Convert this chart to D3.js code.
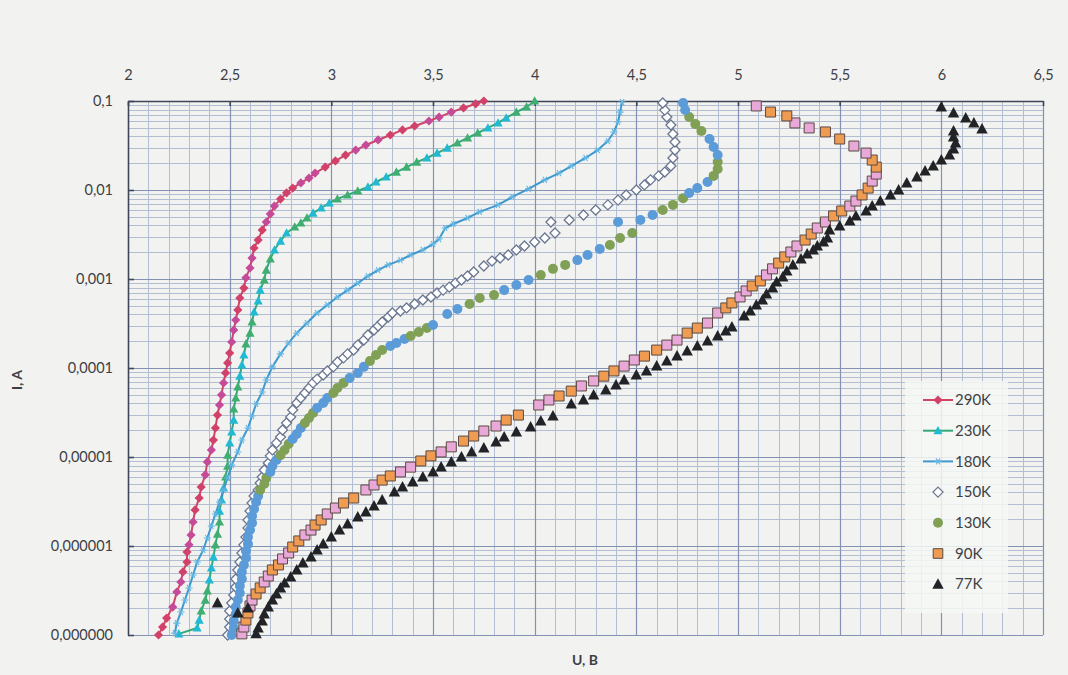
<!DOCTYPE html>
<html>
<head>
<meta charset="utf-8">
<script src="https://cdn.jsdelivr.net/npm/d3@7"></script>
<style>
  html, body { margin: 0; padding: 0; background: #f2f3f1; }
  svg { display: block; font-family: Lato, "Open Sans", "DejaVu Sans", sans-serif; }
</style>
</head>
<body>
<svg id="chart" width="1068" height="675"></svg>
<script>
// ---- Axis ticks ----
const xTicks = [2, 2.5, 3, 3.5, 4, 4.5, 5, 5.5, 6, 6.5];
const yTicks = [1e-7, 1e-6, 1e-5, 1e-4, 1e-3, 1e-2, 1e-1];
const yTickLabels = ["0,000000", "0,000001", "0,00001", "0,0001", "0,001", "0,01", "0,1"];
const seriesNames = ["290K", "230K", "180K", "150K", "130K", "90K", "77K"];

// ---- I–V data: U in volts, I in amperes ----
const u290 = [2.15,2.17,2.19,2.22,2.24,2.26,2.27,2.29,2.29,2.30,2.31,2.32,2.33,2.35,2.36,2.38,2.39,2.41,2.42,2.43,2.44,2.45,2.46,2.47,2.48,2.49,2.50,2.51,2.52,2.53,2.54,2.55,2.57,2.58,2.60,2.61,2.62,2.64,2.66,2.68,2.70,2.72,2.75,2.78,2.81,2.85,2.89,2.92,2.97,3.02,3.07,3.12,3.17,3.23,3.29,3.35,3.41,3.48,3.53,3.59,3.65,3.71,3.75];
const i290 = [1e-7,1.23e-7,1.55e-7,2.06e-7,3.04e-7,3.94e-7,5.11e-7,6.61e-7,8.56e-7,1.03e-6,1.33e-6,1.86e-6,2.54e-6,3.46e-6,4.6e-6,6.3e-6,8.8e-6,1.2e-5,1.55e-5,2.12e-5,2.96e-5,3.84e-5,4.98e-5,6.8e-5,8.8e-5,1.14e-4,1.47e-4,1.96e-4,2.67e-4,3.46e-4,4.49e-4,6.12e-4,7.9e-4,1.03e-3,1.33e-3,1.72e-3,2.23e-3,2.74e-3,3.55e-3,4.37e-3,5.38e-3,6.6e-3,7.9e-3,9.3e-3,1.05e-2,1.2e-2,1.36e-2,1.55e-2,1.81e-2,2.12e-2,2.47e-2,2.81e-2,3.2e-2,3.65e-2,4.15e-2,4.73e-2,5.24e-2,5.96e-2,6.6e-2,7.5e-2,8.35e-2,9.3e-2,0.1];

const u230 = [2.25,2.34,2.35,2.36,2.38,2.39,2.40,2.41,2.42,2.43,2.44,2.45,2.45,2.46,2.47,2.48,2.49,2.49,2.50,2.51,2.52,2.52,2.53,2.54,2.55,2.56,2.57,2.58,2.60,2.61,2.62,2.64,2.65,2.67,2.68,2.70,2.72,2.75,2.78,2.82,2.85,2.88,2.91,2.95,2.99,3.03,3.08,3.13,3.18,3.22,3.27,3.32,3.37,3.42,3.47,3.52,3.57,3.62,3.67,3.72,3.77,3.82,3.86,3.91,3.96,4.00];
const i230 = [1.03e-7,1.2e-7,1.47e-7,1.86e-7,2.47e-7,3.12e-7,4.15e-7,5.67e-7,7.5e-7,1.03e-6,1.36e-6,1.86e-6,2.47e-6,3.29e-6,4.49e-6,5.96e-6,7.9e-6,1.05e-5,1.44e-5,1.91e-5,2.6e-5,3.46e-5,4.6e-5,6.12e-5,8.1e-5,1.08e-4,1.4e-4,1.86e-4,2.47e-4,3.29e-4,4.26e-4,5.67e-4,7.5e-4,9.74e-4,1.26e-3,1.68e-3,2.12e-3,2.67e-3,3.29e-3,3.84e-3,4.26e-3,4.85e-3,5.5e-3,6.28e-3,7.15e-3,7.92e-3,8.8e-3,9.74e-3,1.08e-2,1.23e-2,1.4e-2,1.59e-2,1.81e-2,2.06e-2,2.29e-2,2.6e-2,2.96e-2,3.38e-2,3.84e-2,4.37e-2,4.98e-2,5.67e-2,6.45e-2,7.5e-2,8.56e-2,0.1];

const u180 = [2.23,2.24,2.26,2.28,2.30,2.32,2.34,2.37,2.39,2.41,2.43,2.45,2.47,2.49,2.51,2.54,2.56,2.59,2.61,2.63,2.66,2.68,2.71,2.75,2.79,2.83,2.88,2.93,2.98,3.03,3.08,3.13,3.18,3.23,3.28,3.34,3.39,3.45,3.50,3.53,3.56,3.60,3.67,3.73,3.82,3.89,3.97,4.05,4.12,4.18,4.25,4.31,4.36,4.39,4.41,4.42,4.43];
const i180 = [1.05e-7,1.36e-7,1.81e-7,2.47e-7,3.38e-7,4.73e-7,6.61e-7,9.02e-7,1.23e-6,1.68e-6,2.29e-6,3.12e-6,4.26e-6,5.81e-6,8.1e-6,1.14e-5,1.55e-5,2.12e-5,2.89e-5,3.94e-5,5.38e-5,7.34e-5,1.03e-4,1.44e-4,1.91e-4,2.47e-4,3.2e-4,4.15e-4,5.11e-4,6.28e-4,7.5e-4,9.0e-4,1.08e-3,1.26e-3,1.44e-3,1.63e-3,1.86e-3,2.12e-3,2.47e-3,2.81e-3,3.74e-3,4.15e-3,4.85e-3,5.67e-3,6.8e-3,8.35e-3,1.03e-2,1.3e-2,1.55e-2,1.86e-2,2.29e-2,2.81e-2,3.55e-2,4.49e-2,5.81e-2,7.5e-2,9.74e-2];

const u150 = [2.49,2.50,2.50,2.50,2.51,2.52,2.53,2.53,2.54,2.55,2.56,2.57,2.58,2.59,2.59,2.60,2.61,2.62,2.64,2.65,2.66,2.67,2.69,2.70,2.71,2.73,2.75,2.76,2.78,2.80,2.81,2.83,2.85,2.87,2.89,2.91,2.93,2.96,2.98,3.01,3.03,3.06,3.08,3.11,3.13,3.16,3.18,3.21,3.23,3.25,3.28,3.30,3.34,3.37,3.41,3.45,3.49,3.52,3.55,3.58,3.61,3.64,3.67,3.70,3.75,3.79,3.83,3.87,3.91,3.95,4.00,4.05,4.10,4.08,4.17,4.24,4.30,4.36,4.41,4.45,4.50,4.54,4.57,4.61,4.64,4.67,4.68,4.69,4.69,4.68,4.67,4.65,4.64,4.63];
const i150 = [1e-7,1.23e-7,1.51e-7,1.86e-7,2.29e-7,2.81e-7,3.46e-7,4.26e-7,5.38e-7,6.61e-7,8.35e-7,1.03e-6,1.26e-6,1.59e-6,1.96e-6,2.47e-6,3.04e-6,3.65e-6,4.26e-6,5.11e-6,5.96e-6,7.15e-6,8.56e-6,1.03e-5,1.2e-5,1.44e-5,1.68e-5,2.01e-5,2.41e-5,2.81e-5,3.38e-5,4.05e-5,4.6e-5,5.24e-5,5.96e-5,6.8e-5,7.5e-5,8.35e-5,9.27e-5,1.03e-4,1.17e-4,1.3e-4,1.44e-4,1.59e-4,1.81e-4,2.06e-4,2.35e-4,2.67e-4,2.96e-4,3.29e-4,3.74e-4,4.15e-4,4.37e-4,4.73e-4,5.24e-4,5.81e-4,6.28e-4,6.96e-4,7.5e-4,8.1e-4,9.0e-4,9.74e-4,1.08e-3,1.2e-3,1.4e-3,1.59e-3,1.72e-3,1.86e-3,2.12e-3,2.35e-3,2.6e-3,2.89e-3,3.29e-3,4.37e-3,4.6e-3,5.24e-3,5.96e-3,6.8e-3,7.7e-3,8.8e-3,1.0e-2,1.14e-2,1.3e-2,1.44e-2,1.59e-2,1.86e-2,2.29e-2,2.81e-2,3.46e-2,4.26e-2,5.38e-2,6.61e-2,7.9e-2,9.5e-2];

const u130 = [2.51,2.52,2.52,2.53,2.53,2.54,2.55,2.55,2.56,2.56,2.57,2.58,2.58,2.59,2.59,2.60,2.61,2.61,2.62,2.63,2.64,2.65,2.67,2.68,2.70,2.71,2.73,2.75,2.77,2.79,2.81,2.83,2.85,2.87,2.89,2.91,2.93,2.96,2.98,3.01,3.03,3.06,3.09,3.13,3.16,3.19,3.22,3.25,3.29,3.32,3.36,3.39,3.43,3.47,3.50,3.57,3.62,3.68,3.73,3.80,3.85,3.91,3.97,4.03,4.09,4.15,4.21,4.26,4.32,4.37,4.42,4.48,4.41,4.52,4.58,4.63,4.68,4.73,4.76,4.80,4.85,4.88,4.90,4.90,4.90,4.88,4.86,4.82,4.79,4.76,4.74,4.73];
const i130 = [1e-7,1.2e-7,1.44e-7,1.72e-7,2.06e-7,2.47e-7,2.96e-7,3.55e-7,4.26e-7,5.11e-7,6.12e-7,7.34e-7,8.8e-7,1.05e-6,1.26e-6,1.51e-6,1.81e-6,2.17e-6,2.6e-6,3.12e-6,3.65e-6,4.26e-6,4.98e-6,5.81e-6,6.8e-6,7.92e-6,9.27e-6,1.05e-5,1.2e-5,1.4e-5,1.59e-5,1.81e-5,2.12e-5,2.41e-5,2.74e-5,3.12e-5,3.55e-5,4.05e-5,4.6e-5,5.24e-5,5.96e-5,6.8e-5,7.7e-5,8.8e-5,1.03e-4,1.2e-4,1.4e-4,1.59e-4,1.77e-4,1.91e-4,2.12e-4,2.29e-4,2.54e-4,2.81e-4,3.04e-4,4.05e-4,4.6e-4,5.24e-4,6.12e-4,6.61e-4,7.5e-4,8.56e-4,9.74e-4,1.11e-3,1.3e-3,1.44e-3,1.63e-3,1.86e-3,2.17e-3,2.41e-3,2.89e-3,3.29e-3,4.37e-3,4.6e-3,5.24e-3,5.96e-3,6.8e-3,8.1e-3,9.27e-3,1.05e-2,1.23e-2,1.44e-2,1.72e-2,2.06e-2,2.47e-2,3.04e-2,3.74e-2,4.6e-2,5.5e-2,6.61e-2,7.92e-2,9.5e-2];

const u90 = [2.56,2.57,2.58,2.59,2.60,2.61,2.63,2.65,2.67,2.69,2.71,2.74,2.76,2.79,2.81,2.84,2.87,2.90,2.92,2.95,2.98,3.02,3.06,3.11,3.17,3.21,3.25,3.29,3.34,3.39,3.44,3.49,3.54,3.59,3.65,3.70,3.75,3.81,3.86,3.92,4.02,4.07,4.12,4.18,4.23,4.29,4.34,4.39,4.44,4.49,4.54,4.60,4.65,4.70,4.75,4.80,4.85,4.90,4.94,4.97,5.01,5.04,5.07,5.11,5.14,5.17,5.20,5.23,5.26,5.29,5.33,5.36,5.39,5.43,5.47,5.51,5.55,5.58,5.61,5.64,5.66,5.68,5.68,5.66,5.63,5.57,5.50,5.43,5.35,5.28,5.24,5.16,5.09];
const i90 = [1.03e-7,1.23e-7,1.47e-7,1.77e-7,2.12e-7,2.47e-7,2.89e-7,3.38e-7,3.94e-7,4.6e-7,5.38e-7,6.12e-7,7.15e-7,8.35e-7,9.74e-7,1.14e-6,1.33e-6,1.51e-6,1.72e-6,1.96e-6,2.29e-6,2.67e-6,3.04e-6,3.46e-6,4.26e-6,4.85e-6,5.5e-6,6.12e-6,6.8e-6,7.7e-6,9.02e-6,1.03e-5,1.14e-5,1.3e-5,1.51e-5,1.72e-5,1.96e-5,2.23e-5,2.6e-5,2.96e-5,3.84e-5,4.37e-5,4.85e-5,5.5e-5,6.28e-5,7.15e-5,8.1e-5,9.27e-5,1.05e-4,1.23e-4,1.36e-4,1.59e-4,1.81e-4,2.06e-4,2.47e-4,2.81e-4,3.2e-4,4.15e-4,4.73e-4,5.38e-4,6.28e-4,7.34e-4,8.35e-4,9.5e-4,1.11e-3,1.3e-3,1.51e-3,1.77e-3,2.01e-3,2.35e-3,2.74e-3,3.2e-3,3.74e-3,4.37e-3,5.11e-3,5.81e-3,6.61e-3,7.52e-3,8.8e-3,1.05e-2,1.26e-2,1.51e-2,1.81e-2,2.17e-2,2.6e-2,3.12e-2,3.74e-2,4.49e-2,4.98e-2,5.67e-2,6.8e-2,7.52e-2,8.8e-2];

const u77 = [2.44,2.54,2.59,2.63,2.64,2.66,2.67,2.69,2.71,2.73,2.75,2.77,2.80,2.83,2.86,2.90,2.93,2.96,3.00,3.04,3.08,3.13,3.17,3.21,3.25,3.31,3.35,3.40,3.45,3.50,3.54,3.59,3.64,3.69,3.75,3.81,3.85,3.91,3.98,4.03,4.09,4.18,4.24,4.29,4.35,4.40,4.44,4.50,4.55,4.60,4.65,4.70,4.75,4.80,4.85,4.90,4.94,4.97,5.03,5.06,5.09,5.12,5.14,5.17,5.19,5.22,5.24,5.27,5.31,5.34,5.37,5.39,5.42,5.44,5.45,5.50,5.55,5.58,5.63,5.66,5.70,5.75,5.79,5.83,5.88,5.92,5.96,6.00,6.04,6.06,6.07,6.06,6.06,6.20,6.16,6.12,6.06,6.00];
const i77 = [2.29e-7,1.77e-7,2.01e-7,1.03e-7,1.2e-7,1.44e-7,1.72e-7,2.06e-7,2.47e-7,2.89e-7,3.38e-7,3.84e-7,4.49e-7,5.38e-7,6.45e-7,7.52e-7,9.02e-7,1.05e-6,1.26e-6,1.51e-6,1.77e-6,2.12e-6,2.41e-6,2.81e-6,3.29e-6,4.05e-6,4.6e-6,5.24e-6,5.96e-6,6.8e-6,7.7e-6,8.8e-6,1.0e-5,1.14e-5,1.26e-5,1.47e-5,1.68e-5,1.91e-5,2.17e-5,2.54e-5,2.89e-5,3.94e-5,4.37e-5,4.98e-5,5.67e-5,6.45e-5,7.34e-5,8.35e-5,9.27e-5,1.05e-4,1.2e-4,1.36e-4,1.55e-4,1.77e-4,2.01e-4,2.29e-4,2.6e-4,2.89e-4,3.84e-4,4.37e-4,5.11e-4,5.81e-4,6.8e-4,7.92e-4,9.27e-4,1.05e-3,1.23e-3,1.44e-3,1.68e-3,1.91e-3,2.12e-3,2.35e-3,2.6e-3,2.89e-3,3.55e-3,3.94e-3,4.49e-3,5.11e-3,5.81e-3,6.61e-3,7.52e-3,8.8e-3,1.0e-2,1.2e-2,1.4e-2,1.63e-2,1.86e-2,2.17e-2,2.47e-2,2.89e-2,3.38e-2,3.94e-2,4.6e-2,4.85e-2,5.67e-2,6.45e-2,7.34e-2,8.56e-2];

// ---- Layout ----
const svg = d3.select("#chart");
const plot = { left: 128, right: 1043, top: 101, bottom: 635 };
const x = d3.scaleLinear().domain([2, 6.5]).range([plot.left, plot.right]);
const y = d3.scaleLog().domain([1e-7, 0.1]).range([plot.bottom, plot.top]);
const crisp = v => Math.round(v) + 0.5;

// ---- Gridlines ----
const grid = svg.append("g").attr("class", "grid");
const minorU = d3.range(20, 66).map(v => v / 10).filter(v => Math.round(v * 10) % 5 !== 0);
const minorI = [];
for (let e = -7; e <= -2; e++) for (let m = 2; m <= 9; m++) minorI.push(m * Math.pow(10, e));

grid.selectAll("line.minor-v").data(minorU).join("line")
  .attr("x1", d => crisp(x(d))).attr("x2", d => crisp(x(d)))
  .attr("y1", plot.top).attr("y2", plot.bottom)
  .attr("stroke", "#b3bed2").attr("stroke-width", 1);
grid.selectAll("line.minor-h").data(minorI).join("line")
  .attr("y1", d => crisp(y(d))).attr("y2", d => crisp(y(d)))
  .attr("x1", plot.left).attr("x2", plot.right)
  .attr("stroke", "#b3bed2").attr("stroke-width", 1);
grid.selectAll("line.major-v").data(xTicks.slice(1)).join("line")
  .attr("x1", d => crisp(x(d))).attr("x2", d => crisp(x(d)))
  .attr("y1", plot.top).attr("y2", plot.bottom)
  .attr("stroke", "#8391b2").attr("stroke-width", 1.2);
grid.selectAll("line.major-h").data(yTicks.slice(0, -1)).join("line")
  .attr("y1", d => crisp(y(d))).attr("y2", d => crisp(y(d)))
  .attr("x1", plot.left).attr("x2", plot.right)
  .attr("stroke", "#8391b2").attr("stroke-width", 1.2);

// ---- Axes ----
const textColor = "#3d3f44";
const xAxis = d3.axisTop(x).tickValues(xTicks)
  .tickSizeInner(-5).tickSizeOuter(0).tickPadding(21)
  .tickFormat(d => String(d).replace(".", ","));
const gx = svg.append("g").attr("transform", `translate(0,${plot.top})`).call(xAxis);

const yAxis = d3.axisLeft(y).tickValues(yTicks)
  .tickSizeInner(-6).tickSizeOuter(0).tickPadding(15)
  .tickFormat((d, i) => yTickLabels[i]);
const gy = svg.append("g").attr("transform", `translate(${plot.left},0)`).call(yAxis);

[gx, gy].forEach(g => {
  g.select(".domain").attr("stroke", "#3e4658").attr("stroke-width", 1.6);
  g.selectAll(".tick line").attr("stroke", "#3e4658").attr("stroke-width", 1.6);
  g.selectAll(".tick text").attr("fill", textColor)
    .style("font-size", "14.5px").style("font-family", "Lato, 'Open Sans', sans-serif");
});

// Axis titles
svg.append("text").attr("x", 585).attr("y", 665).attr("text-anchor", "middle")
  .attr("fill", textColor).style("font-size", "14px").style("font-weight", "bold").text("U, B");
svg.append("text").attr("transform", "translate(22,380) rotate(-90)").attr("text-anchor", "middle")
  .attr("fill", textColor).style("font-size", "14px").style("font-weight", "bold").text("I, A");

// ---- Marker shapes ----
const shapes = {
  diamond: r => `M0,${-r}L${r},0L0,${r}L${-r},0Z`,
  triangle: r => `M0,${-r}L${r * 0.95},${r * 0.75}L${-r * 0.95},${r * 0.75}Z`,
  square: r => `M${-r},${-r}H${r}V${r}H${-r}Z`,
  asterisk: r => `M${-r},0H${r}M${-r * 0.55},${-r * 0.85}L${r * 0.55},${r * 0.85}M${-r * 0.55},${r * 0.85}L${r * 0.55},${-r * 0.85}`,
  circle: r => `M${r},0A${r},${r} 0 1,1 ${-r},0A${r},${r} 0 1,1 ${r},0Z`
};

const series = [
  { name: seriesNames[0], u: u290, i: i290, line: "#d04466", shape: "diamond", r: 4.6,
    fills: ["#d2416a", "#c54a98"], run: 3, stroke: "none" },
  { name: seriesNames[1], u: u230, i: i230, line: "#35a878", shape: "triangle", r: 4.8,
    fills: ["#22b9d3", "#3fae70"], run: 3, stroke: "none" },
  { name: seriesNames[2], u: u180, i: i180, line: "#3d98cf", shape: "asterisk", r: 3.6,
    fills: ["none"], run: 1, stroke: "#62b6e2", sw: 1.1 },
  { name: seriesNames[3], u: u150, i: i150, line: null, shape: "diamond", r: 5,
    fills: ["#ffffff"], run: 1, stroke: "#6b7791", sw: 1.3 },
  { name: seriesNames[4], u: u130, i: i130, line: null, shape: "circle", r: 5,
    fills: ["#5b9bd8", "#80a056"], run: 3, stroke: "none", blueBelow: 20 },
  { name: seriesNames[5], u: u90, i: i90, line: null, shape: "square", r: 5,
    fills: ["#e8a8d8", "#ef9c52"], run: 2, stroke: "#5b4a44", sw: 1 },
  { name: seriesNames[6], u: u77, i: i77, line: null, shape: "triangle", r: 6,
    fills: ["#222326"], run: 1, stroke: "none" }
];

const fillFor = (s, k) => {
  if (s.blueBelow !== undefined && k < s.blueBelow) return s.fills[0];
  return s.fills[Math.floor(k / s.run) % s.fills.length];
};

const gSeries = svg.append("g").attr("class", "series");
series.forEach(s => {
  const pts = s.u.map((u, k) => ({ u, i: s.i[k], k }));
  const g = gSeries.append("g");
  if (s.line) {
    g.append("path").datum(pts)
      .attr("d", d3.line().x(d => x(d.u)).y(d => y(d.i)))
      .attr("fill", "none").attr("stroke", s.line).attr("stroke-width", 2)
      .attr("stroke-linejoin", "round");
  }
  g.selectAll("path.m").data(pts).join("path").attr("class", "m")
    .attr("transform", d => `translate(${x(d.u)},${y(d.i)})`)
    .attr("d", shapes[s.shape](s.r))
    .attr("fill", d => fillFor(s, d.k))
    .attr("stroke", s.stroke).attr("stroke-width", s.sw || 0);
});

// ---- Legend ----
const legend = svg.append("g").attr("class", "legend");
legend.append("rect").attr("x", 905).attr("y", 381).attr("width", 103).attr("height", 232)
  .attr("fill", "#f6f7f5").attr("fill-opacity", 0.86);
series.forEach((s, k) => {
  const cy = 400 + k * 30.7;
  const item = legend.append("g");
  if (s.line) {
    item.append("line").attr("x1", 923).attr("x2", 953).attr("y1", cy).attr("y2", cy)
      .attr("stroke", s.line).attr("stroke-width", 2);
  }
  item.append("path").attr("transform", `translate(938,${cy})`)
    .attr("d", shapes[s.shape](s.shape === "square" ? 4.8 : s.r))
    .attr("fill", s.shape === "circle" ? s.fills[1] : (s.shape === "square" ? s.fills[1] : s.fills[0]))
    .attr("stroke", s.stroke).attr("stroke-width", s.sw || 0);
  item.append("text").attr("x", 955).attr("y", cy).attr("dy", "0.35em")
    .attr("fill", textColor).style("font-size", "15px").text(s.name);
});
</script>
</body>
</html>
